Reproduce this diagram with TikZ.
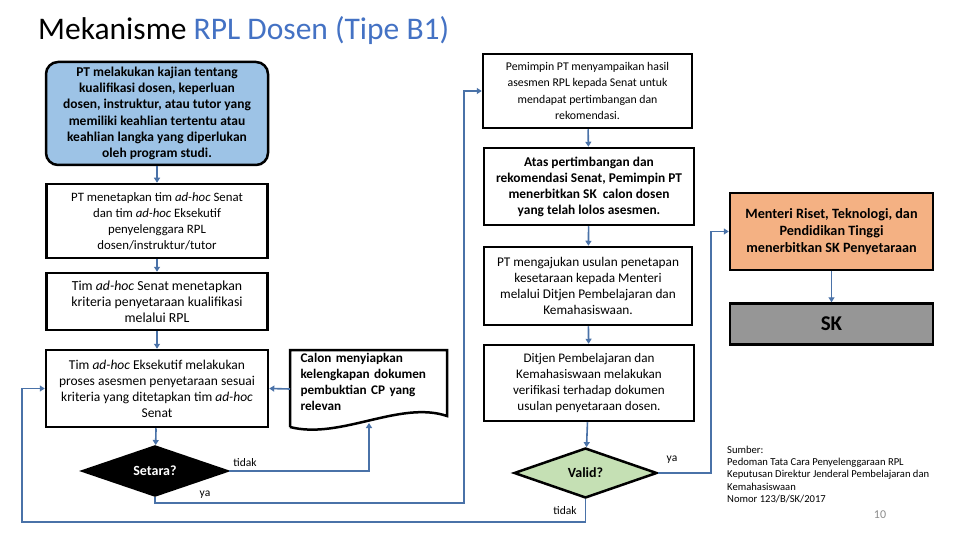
\documentclass[tikz,border=0pt]{standalone}
\usepackage{fontspec}
\setmainfont{Carlito}
\usetikzlibrary{arrows.meta,shapes.geometric}
\definecolor{linkblue}{RGB}{74,114,168}
\definecolor{titleblue}{RGB}{68,114,196}
\definecolor{kajifill}{RGB}{157,195,230}
\definecolor{validfill}{RGB}{197,224,180}
\definecolor{menterifill}{RGB}{244,177,131}
\definecolor{skfill}{RGB}{150,150,150}
\definecolor{pagegray}{RGB}{140,140,140}

\begin{document}
\begin{tikzpicture}[x=1pt,y=-1pt]
\tikzstyle{every node}=[inner sep=0pt, font=\fontsize{13.3}{16}\selectfont]
\tikzstyle{box}=[draw, line width=2.5pt, rectangle, align=center]
\tikzstyle{decide}=[draw, line width=2.5pt, diamond, aspect=2.9]
\tikzstyle{link}=[draw=linkblue, line width=1.6pt, -{Triangle[length=5pt,width=6pt]}]
\tikzstyle{label}=[font=\fontsize{11.5}{13}\selectfont]
\useasboundingbox[fill=white] (0,0) rectangle (960,540);

\draw (38,40) node (title) [anchor=base west, font=\fontsize{31.5}{36}\selectfont] {Mekanisme \textcolor{titleblue}{RPL Dosen (Tipe B1)}};

\draw (157,113.5) node (kaji) [box, fill=kajifill, rounded corners=12pt, minimum width=222pt, minimum height=103pt, font=\fontsize{13.5}{16.2}\selectfont\bfseries] {PT melakukan kajian tentang\\kualifikasi dosen, keperluan\\dosen, instruktur, atau tutor yang\\memiliki keahlian tertentu atau\\keahlian langka yang diperlukan\\oleh program studi.};
\draw (157,221) node (tetap) [box, minimum width=221pt, minimum height=74pt, font=\fontsize{12.8}{16}\selectfont] {PT menetapkan tim \textit{ad-hoc} Senat\\dan tim \textit{ad-hoc} Eksekutif\\penyelenggara RPL\\dosen/instruktur/tutor};
\draw (157,301.5) node (krit) [box, minimum width=221pt, minimum height=57pt, font=\fontsize{13.8}{16}\selectfont] {Tim \textit{ad-hoc} Senat menetapkan\\kriteria penyetaraan kualifikasi\\melalui RPL};
\draw (157,388.5) node (ases) [box, minimum width=222pt, minimum height=77pt, font=\fontsize{13.5}{16}\selectfont] {Tim \textit{ad-hoc} Eksekutif melakukan\\proses asesmen penyetaraan sesuai\\kriteria yang ditetapkan tim \textit{ad-hoc}\\Senat};
\draw (155,471) node (setara) [decide, fill=black, text=white, minimum width=145pt, minimum height=50pt, font=\fontsize{14}{16}\selectfont\bfseries] {Setara?};

\draw (368.5,382) node (calon) [align=left, text width=136pt, font=\fontsize{13.2}{16}\selectfont\bfseries] {Calon menyiapkan\\kelengkapan dokumen\\pembuktian CP yang\\relevan};
\draw[line width=2.5pt] (290,427) -- (290,350) -- (447,350) -- (447,416) .. controls (400,400) and (340,440) .. (290,427);
\coordinate (calonw) at (290,389);
\coordinate (calonb) at (369,423);

\draw (587.5,91) node (sampai) [box, minimum width=209pt, minimum height=74pt, font=\fontsize{11.8}{16.3}\selectfont] {Pemimpin PT menyampaikan hasil\\asesmen RPL kepada Senat untuk\\mendapat pertimbangan dan\\rekomendasi.};
\draw (589,186.5) node (terbit) [box, minimum width=210pt, minimum height=77pt, font=\fontsize{13.4}{16}\selectfont\bfseries] {Atas pertimbangan dan\\rekomendasi Senat, Pemimpin PT\\menerbitkan SK~ calon dosen\\yang telah lolos asesmen.};
\draw (588,286) node (aju) [box, minimum width=208pt, minimum height=78pt] {PT mengajukan usulan penetapan\\kesetaraan kepada Menteri\\melalui Ditjen Pembelajaran dan\\Kemahasiswaan.};
\draw (589,383) node (verif) [box, minimum width=210pt, minimum height=76pt, font=\fontsize{13.1}{16}\selectfont] {Ditjen Pembelajaran dan\\Kemahasiswaan melakukan\\verifikasi terhadap dokumen\\usulan penyetaraan dosen.};
\draw (585.5,473) node (valid) [decide, fill=validfill, minimum width=143pt, minimum height=50pt, font=\fontsize{14}{16}\selectfont\bfseries] {Valid?};

\draw (831.5,231.5) node (menteri) [box, fill=menterifill, minimum width=203pt, minimum height=77pt, font=\fontsize{14.2}{17}\selectfont\bfseries] {Menteri Riset, Teknologi, dan\\Pendidikan Tinggi\\menerbitkan SK Penyetaraan};
\draw (831.5,324) node (sk) [box, fill=skfill, minimum width=203pt, minimum height=41pt, font=\fontsize{21}{24}\selectfont\bfseries] {SK};

\draw (727,446) node (sumber) [anchor=north west, align=left, font=\fontsize{10.6}{12.2}\selectfont] {Sumber:\\Pedoman Tata Cara Penyelenggaraan RPL\\Keputusan Direktur Jenderal Pembelajaran dan\\Kemahasiswaan\\Nomor 123/B/SK/2017};
\draw (880,515) node (page) [text=pagegray, font=\fontsize{12}{14}\selectfont] {10};

\coordinate (ya1) at (464,503);
\coordinate (ya2) at (711,473);
\coordinate (back) at (22,522);

\draw[link] (kaji) -- (tetap);
\draw[link] (tetap) -- (krit);
\draw[link] (krit) -- (ases);
\draw[link] (ases) -- (setara);
\draw[link] (setara.east) -| (calonb);
\draw[link] (calonw) -- (ases.east);
\draw[link] (setara.south) |- (ya1) |- (sampai.west);
\draw[link] (sampai) -- (terbit);
\draw[link] (terbit) -- (aju);
\draw[link] (aju) -- (verif);
\draw[link] (verif) -- (valid);
\draw[link] (valid.east) -- (ya2) |- (menteri.west);
\draw[link] (valid.south) |- (back) |- (ases.west);
\draw[link] (menteri) -- (sk);

\draw (245,463) node (tidak1) [label] {tidak};
\draw (205,495) node (ya1lbl) [label] {ya};
\draw (672,460) node (ya2lbl) [label] {ya};
\draw (565,511) node (tidak2) [label] {tidak};
\end{tikzpicture}
\end{document}
